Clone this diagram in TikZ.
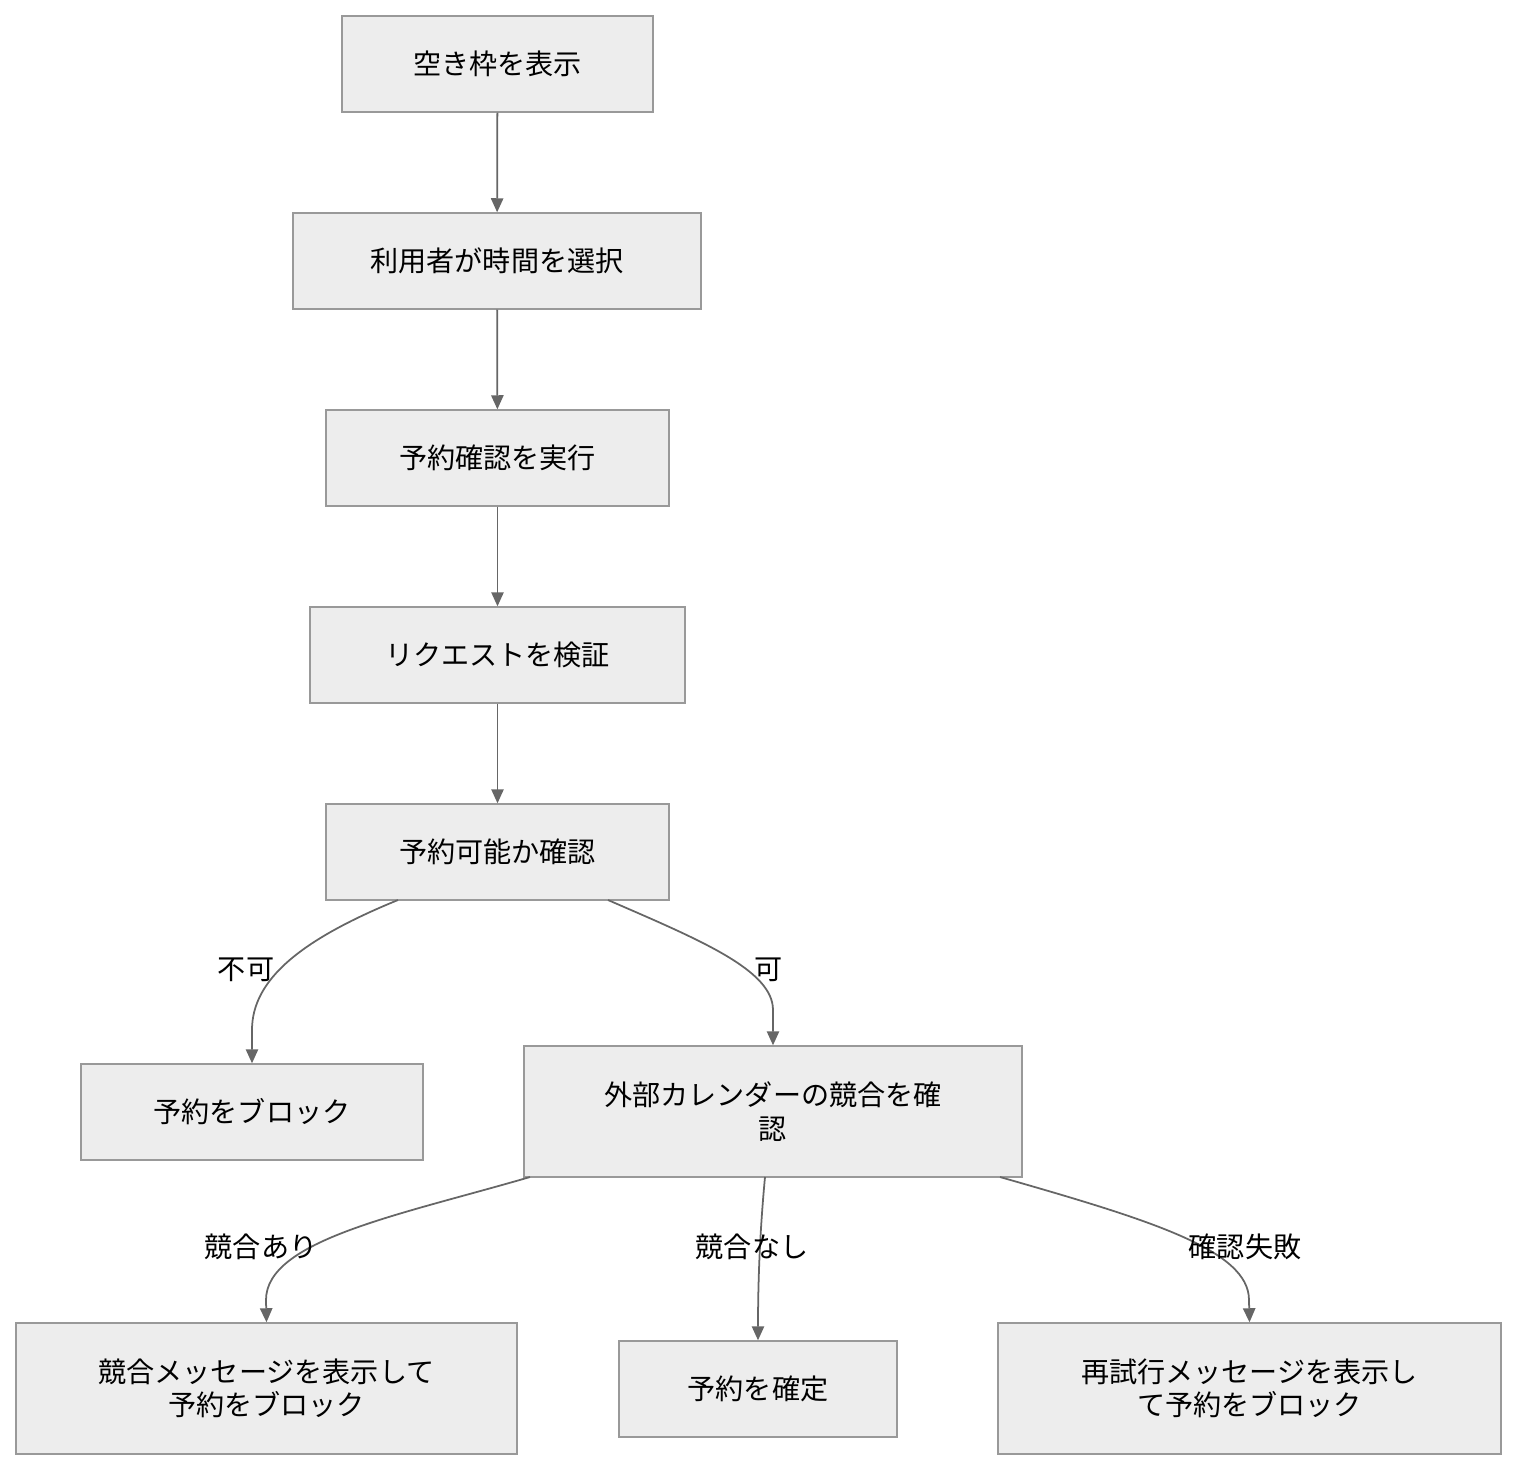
\documentclass[tikz,border=0pt]{standalone}
\usepackage{fontspec}
\setmainfont{Noto Sans CJK JP}
\usetikzlibrary{arrows.meta}
\begin{document}
\begin{tikzpicture}[x=0.02cm,y=-0.02cm,
  box/.style={draw=black!40,fill=black!7,line width=0.8pt,align=center,inner sep=0pt,font=\fontsize{16}{19}\selectfont},
  conn/.style={draw=black!60,line width=1pt,-{Triangle[length=8pt,width=7pt]}},
  lbl/.style={font=\fontsize{16}{19}\selectfont,inner sep=1pt}]
\useasboundingbox (0,0) rectangle (1519,1472);
\node[box,minimum width=311*0.02cm,minimum height=96*0.02cm] (a) at (497.5,64) {空き枠を表示};
\node[box,minimum width=408*0.02cm,minimum height=96*0.02cm] (b) at (497,261) {利用者が時間を選択};
\node[box,minimum width=343*0.02cm,minimum height=96*0.02cm] (c) at (497.5,458) {予約確認を実行};
\node[box,minimum width=375*0.02cm,minimum height=96*0.02cm] (d) at (497.5,655) {リクエストを検証};
\node[box,minimum width=343*0.02cm,minimum height=96*0.02cm] (e) at (497.5,852) {予約可能か確認};
\node[box,minimum width=342*0.02cm,minimum height=96*0.02cm] (f) at (252,1112) {予約をブロック};
\node[box,minimum width=498*0.02cm,minimum height=131*0.02cm] (g) at (773,1111.5) {外部カレンダーの競合を確\\認};
\node[box,minimum width=501*0.02cm,minimum height=131*0.02cm] (h) at (266.5,1388.5) {競合メッセージを表示して\\予約をブロック};
\node[box,minimum width=278*0.02cm,minimum height=96*0.02cm] (i) at (758,1389) {予約を確定};
\node[box,minimum width=503*0.02cm,minimum height=131*0.02cm] (j) at (1249.5,1388.5) {再試行メッセージを表示し\\て予約をブロック};
\draw[conn] (a) -- (b);
\draw[conn] (b) -- (c);
\draw[conn] (c) -- (d);
\draw[conn] (d) -- (e);
\coordinate (e1) at (398,900); \coordinate (e2) at (608,900);
\coordinate (g1) at (530,1177); \coordinate (g2) at (765,1177); \coordinate (g3) at (1000,1177);
\draw[conn] (e1) .. controls (300,940) and (252,980) .. (252,1030) -- (f.north);
\draw[conn] (e2) .. controls (700,940) and (773,970) .. (773,1010) -- (g.north);
\draw[conn] (g1) .. controls (400,1215) and (266,1240) .. (266,1300) -- (h.north);
\draw[conn] (g2) .. controls (760,1230) and (758,1280) .. (i.north);
\draw[conn] (g3) .. controls (1150,1220) and (1249,1250) .. (1249,1300) -- (j.north);
\node[lbl] (l1) at (246,970) {不可};
\node[lbl] (l2) at (769,970) {可};
\node[lbl] (l3) at (261,1247) {競合あり};
\node[lbl] (l4) at (752,1247) {競合なし};
\node[lbl] (l5) at (1245,1247) {確認失敗};
\end{tikzpicture}
\end{document}
